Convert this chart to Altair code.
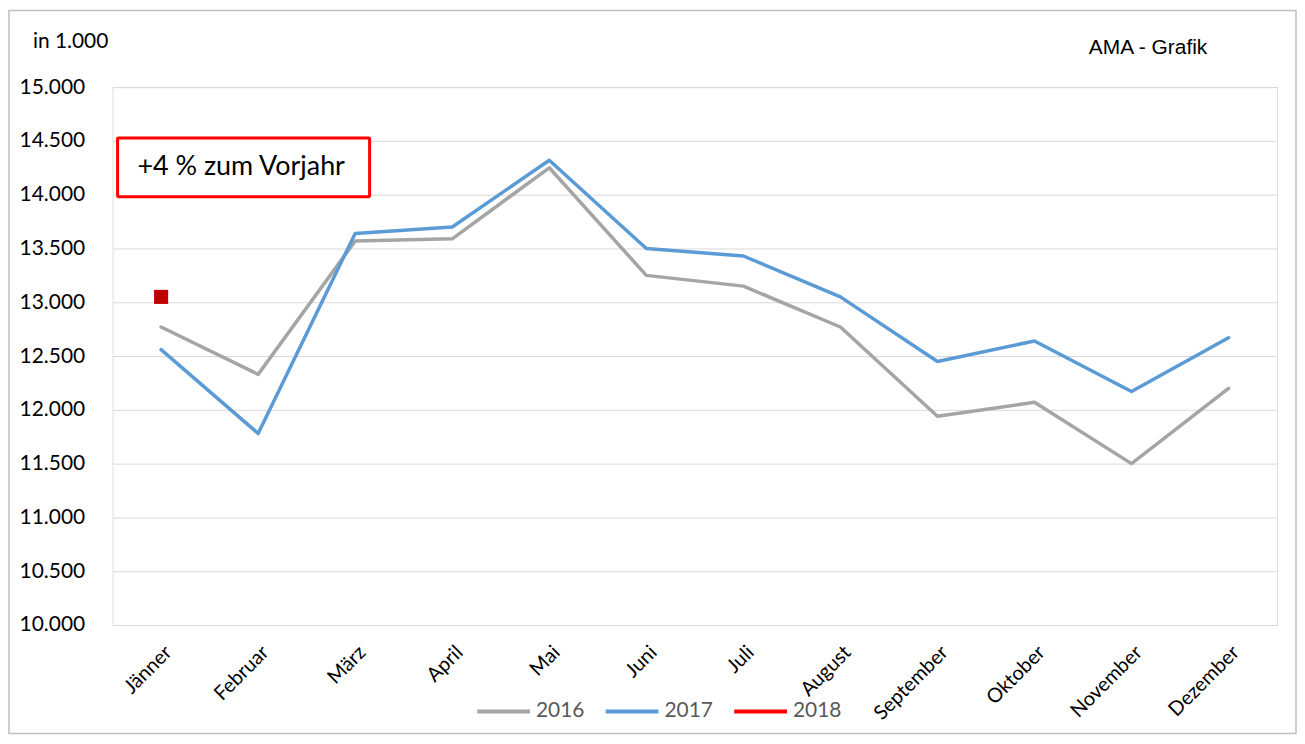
import altair as alt
import pandas as pd

months = ["Jänner", "Februar", "März", "April", "Mai", "Juni", "Juli", "August",
          "September", "Oktober", "November", "Dezember"]
v2016 = [12770, 12330, 13570, 13590, 14250, 13250, 13150, 12770, 11940, 12070, 11500, 12200]
v2017 = [12560, 11780, 13640, 13700, 14320, 13500, 13430, 13050, 12450, 12640, 12170, 12670]
v2018 = [13050]
years = ["2016", "2017", "2018"]
colors = ["#A5A5A5", "#5B9BD5", "#FF0000"]
y_ticks = [10000, 10500, 11000, 11500, 12000, 12500, 13000, 13500, 14000, 14500, 15000]

rows = []
for m, v in zip(months, v2016):
    rows.append({"Monat": m, "Wert": v, "Jahr": "2016"})
for m, v in zip(months, v2017):
    rows.append({"Monat": m, "Wert": v, "Jahr": "2017"})
for m, v in zip(months, v2018):
    rows.append({"Monat": m, "Wert": v, "Jahr": "2018"})
df = pd.DataFrame(rows)
df18 = df[df["Jahr"] == "2018"]

FONT = "Lato"
W, H = 1169, 540

x_enc = alt.X("Monat:N", sort=months, scale=alt.Scale(domain=months, type="point", padding=0.5),
              axis=alt.Axis(title=None, labelAngle=-45, labelFontSize=20, labelFont=FONT,
                            labelColor="#000000", ticks=False, domain=False, grid=False,
                            labelPadding=17))
y_enc = alt.Y("Wert:Q", scale=alt.Scale(domain=[10000, 15000], nice=False, zero=False),
              axis=alt.Axis(title=None, values=y_ticks, labelFontSize=21, labelFont=FONT,
                            labelColor="#000000", ticks=False, domain=False, grid=True,
                            gridColor="#D9D9D9", gridWidth=1, labelPadding=28,
                            labelExpr="replace(format(datum.value, ','), ',', '.')"))

lines = alt.Chart(df).mark_line(strokeWidth=3.5, strokeCap="round", strokeJoin="round").encode(
    x=x_enc, y=y_enc,
    color=alt.Color("Jahr:N", scale=alt.Scale(domain=years, range=colors),
                    legend=alt.Legend(title=None, orient="none", direction="horizontal",
                                      legendX=364, legendY=598, symbolType="stroke",
                                      symbolSize=2800, symbolStrokeWidth=4,
                                      labelFontSize=21, labelFont=FONT, labelColor="#595959",
                                      columnPadding=13, labelOffset=4))
)

point18 = alt.Chart(df18).mark_square(size=200, color="#C00000", opacity=1).encode(
    x=alt.X("Monat:N", sort=months), y="Wert:Q"
)

one = pd.DataFrame({"t": ["x"]})

box = alt.Chart(one).mark_rect(fill="white", stroke="#FF0000", strokeWidth=3, cornerRadius=1).encode(
    x=alt.value(5), x2=alt.value(258), y=alt.value(51), y2=alt.value(110)
)
box_text = alt.Chart(pd.DataFrame({"t": ["+4 % zum Vorjahr"]})).mark_text(
    align="left", baseline="middle", fontSize=27, font=FONT, color="#000000"
).encode(x=alt.value(25), y=alt.value(80), text="t:N")

unit = alt.Chart(pd.DataFrame({"t": ["in 1.000"]})).mark_text(
    align="left", baseline="middle", fontSize=21, font=FONT, color="#000000"
).encode(x=alt.value(-80), y=alt.value(-45), text="t:N")

src = alt.Chart(pd.DataFrame({"t": ["AMA - Grafik"]})).mark_text(
    align="left", baseline="middle", fontSize=21, font="Liberation Sans", color="#000000"
).encode(x=alt.value(980), y=alt.value(-39), text="t:N")

frame = alt.Chart(one).mark_rect(fill=None, stroke="#BFBFBF", strokeWidth=1.5).encode(
    x=alt.value(-104), x2=alt.value(1188), y=alt.value(-77), y2=alt.value(649)
)

chart = alt.layer(frame, box, box_text, unit, src, lines, point18).properties(
    width=W, height=H,
    padding={"left": 105, "top": 78, "right": 20, "bottom": 110},
    autosize=alt.AutoSizeParams(type="none"),
).configure_view(stroke="#D9D9D9", strokeWidth=1.5).configure(background="white")

chart.save("out.html", embed_options={"renderer": "svg", "actions": False})
